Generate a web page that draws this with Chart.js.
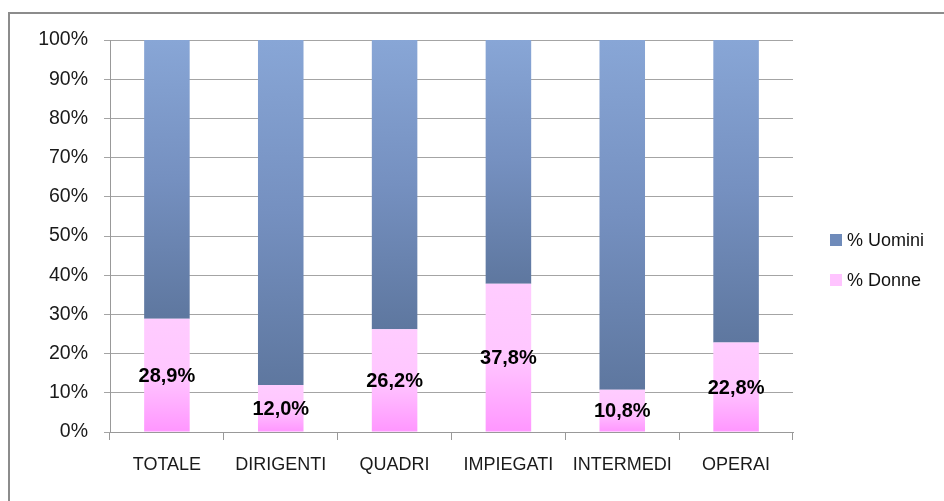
<!DOCTYPE html>
<html>
<head>
<meta charset="utf-8">
<script src="https://cdn.jsdelivr.net/npm/chart.js@4"></script>
<style>
  html, body { margin: 0; padding: 0; background: #fff; }
  #wrap { position: relative; width: 944px; height: 501px; overflow: hidden; }
  #cornice { position: absolute; left: 8px; top: 12px; width: 960px; height: 520px;
    border-top: 2px solid #8c8c8c; border-left: 2px solid #8c8c8c; box-sizing: border-box; }
  canvas { position: absolute; left: 0; top: 0; }
</style>
</head>
<body>
<div id="wrap">
  <div id="cornice"></div>
  <canvas id="grafico" width="944" height="501"></canvas>
</div>
<script>
const categorie = ["TOTALE", "DIRIGENTI", "QUADRI", "IMPIEGATI", "INTERMEDI", "OPERAI"];
const donne = [28.9, 12.0, 26.2, 37.8, 10.8, 22.8];
const uomini = [71.1, 88.0, 73.8, 62.2, 89.2, 77.2];
const etichetteDonne = ["28,9%", "12,0%", "26,2%", "37,8%", "10,8%", "22,8%"];

const font = "'Liberation Sans', Arial, sans-serif";

// gradiente per ogni segmento, dall'alto al basso
const gradiente = (ctx, da, a, stops) => {
  const chart = ctx.chart;
  const y = chart.scales.y;
  if (!chart.chartArea || !y) return stops[stops.length - 1][1];
  const i = ctx.dataIndex;
  const top = y.getPixelForValue(a[i]);
  const bottom = y.getPixelForValue(da[i]);
  const g = chart.ctx.createLinearGradient(0, top, 0, bottom);
  stops.forEach(s => g.addColorStop(s[0], s[1]));
  return g;
};

const zeri = categorie.map(() => 0);
const cento = categorie.map(() => 100);

const etichettePlugin = {
  id: "etichette",
  afterDatasetsDraw(chart) {
    const ctx = chart.ctx;
    const meta = chart.getDatasetMeta(0);
    ctx.save();
    ctx.font = "bold 20px " + font;
    ctx.fillStyle = "#000";
    ctx.textAlign = "center";
    ctx.textBaseline = "middle";
    meta.data.forEach((bar, i) => {
      const p = bar.getProps(["x", "y", "base"], true);
      ctx.fillText(etichetteDonne[i], p.x, (p.y + p.base) / 2 + 1);
    });
    ctx.restore();
  }
};

const legendaPlugin = {
  id: "legenda",
  afterDraw(chart) {
    const ctx = chart.ctx;
    const area = chart.chartArea;
    const voci = [
      { testo: "% Uomini", colore: "#6f8bba" },
      { testo: "% Donne", colore: "#ffc4ff" }
    ];
    ctx.save();
    ctx.font = "18px " + font;
    ctx.textBaseline = "middle";
    voci.forEach((v, k) => {
      const yc = 240 + k * 40;
      const x = area.right + 37;
      ctx.fillStyle = v.colore;
      ctx.fillRect(x, yc - 6, 12, 12);
      ctx.fillStyle = "#111";
      ctx.fillText(v.testo, x + 17, yc + 1);
    });
    ctx.restore();
  }
};

new Chart(document.getElementById("grafico"), {
  type: "bar",
  data: {
    labels: categorie,
    datasets: [
      {
        label: "% Donne",
        data: donne,
        backgroundColor: (ctx) => gradiente(ctx, zeri, donne, [[0, "#ffccff"], [0.5, "#ffc6ff"], [1, "#ff96ff"]])
      },
      {
        label: "% Uomini",
        data: uomini,
        backgroundColor: (ctx) => gradiente(ctx, donne, cento, [[0, "#88a6d6"], [0.5, "#7590c0"], [1, "#5e779f"]])
      }
    ]
  },
  options: {
    responsive: false,
    animation: false,
    layout: { padding: { left: 10, top: 40, right: 151, bottom: 0 } },
    datasets: { bar: { categoryPercentage: 1, barPercentage: 0.4 } },
    plugins: { legend: { display: false }, tooltip: { enabled: false } },
    scales: {
      x: {
        stacked: true,
        afterFit: (s) => { s.height = 69; },
        grid: { offset: true, drawOnChartArea: false, drawTicks: true, tickLength: 8, color: "#999" },
        border: { color: "#999" },
        ticks: { color: "#1a1a1a", font: { family: font, size: 18 }, padding: 14 }
      },
      y: {
        stacked: true,
        min: 0,
        max: 100,
        afterFit: (s) => { s.width = 100; },
        grid: { color: "#a4a4a4", tickLength: 6 },
        border: { color: "#999" },
        ticks: {
          stepSize: 10,
          color: "#1a1a1a",
          font: { family: font, size: 19.5 },
          padding: 16,
          callback: (v) => v + "%"
        }
      }
    }
  },
  plugins: [etichettePlugin, legendaPlugin]
});
</script>
</body>
</html>
